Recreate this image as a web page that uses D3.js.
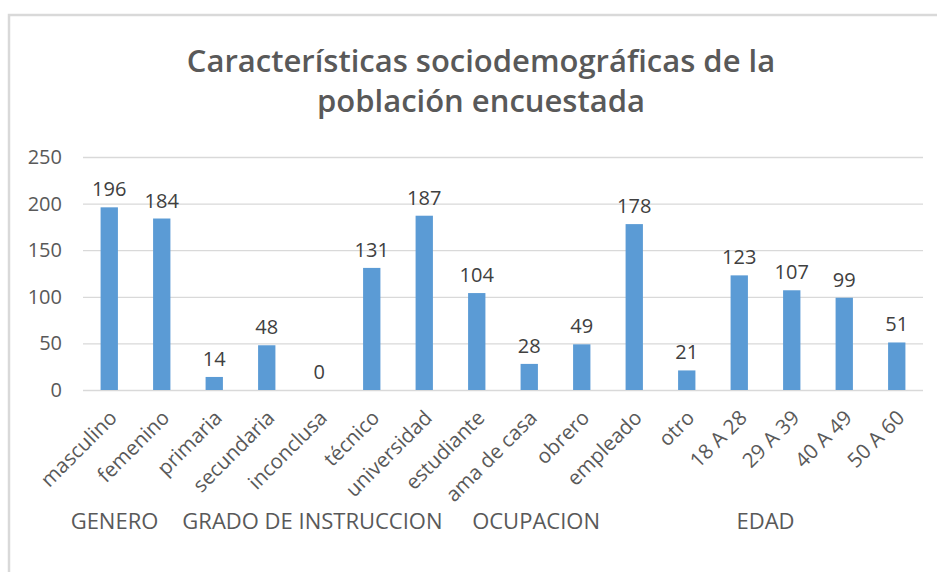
<!DOCTYPE html>
<html>
<head>
<meta charset="utf-8">
<script src="https://cdn.jsdelivr.net/npm/d3@7"></script>
<style>
  body { margin: 0; background: #fff; }
  text { font-family: "Open Sans", sans-serif; }
</style>
</head>
<body>
<div class="bar-chart"></div>
<script>

    // data
    const categories = ["masculino", "femenino", "primaria", "secundaria", "inconclusa", "técnico",
        "universidad", "estudiante", "ama de casa", "obrero", "empleado", "otro",
        "18 A 28", "29 A 39", "40 A 49", "50 A 60"]
    const values = [196, 184, 14, 48, 0, 131, 187, 104, 28, 49, 178, 21, 123, 107, 99, 51]
    const yTicks = [0, 50, 100, 150, 200, 250]
    const groupNames = ["GENERO", "GRADO DE INSTRUCCION", "OCUPACION", "EDAD"]
    const groupAnchors = ["masculino", "inconclusa", "ama de casa", "18 A 28"]

    const data = categories.map((c, i) => ({cat: c, value: values[i]}))

    const W = 937, H = 572
    const margin = ({top: 157, right: 14, bottom: 182, left: 83})
    // where each group label sits relative to its anchor bar, in steps
    const labelShift = [0.1, -0.13, 0.13, 0.5]

    const svg = d3.select(".bar-chart")
        .append("svg")
        .attr("width", W)
        .attr("height", H)

    // chart frame
    svg.append("path")
        .attr("d", `M9,${H} V15 H${W}`)
        .attr("fill", "none")
        .attr("stroke", "#d9d9d9")
        .attr("stroke-width", 2.5)

    svg.append("text")
        .attr("x", 481)
        .attr("text-anchor", "middle")
        .attr("fill", "#595959")
        .attr("font-size", 31)
        .attr("font-weight", 600)
        .selectAll("tspan")
        .data(["Características sociodemográficas de la", "población encuestada"])
        .join("tspan")
        .attr("x", 481)
        .attr("y", (d, i) => 72 + i * 40)
        .text(d => d)

    const x = d3.scaleBand()
        .domain(categories)
        .range([margin.left, W - margin.right])
        .paddingInner(0.67)
        .paddingOuter(0.335)

    const y = d3.scaleLinear()
        .domain([0, 250])
        .range([H - margin.bottom, margin.top])

    const yAxis = d3.axisLeft(y)
        .tickValues(yTicks)
        .tickSize(-(W - margin.right - margin.left))
        .tickPadding(21)

    svg.append("g")
        .attr("transform", `translate(${margin.left},0)`)
        .call(yAxis)
        .call(g => g.select(".domain").remove())
        .call(g => g.selectAll(".tick line").attr("stroke", "#d9d9d9").attr("stroke-width", 1.3))
        .call(g => g.selectAll(".tick text")
            .attr("fill", "#595959")
            .attr("font-size", 20)
            .attr("font-family", "Open Sans, sans-serif"))

    svg.append("g")
        .selectAll("rect")
        .data(data)
        .join("rect")
        .attr("x", d => x(d.cat))
        .attr("y", d => y(d.value))
        .attr("width", x.bandwidth())
        .attr("height", d => y(0) - y(d.value))
        .attr("fill", "#5b9bd5")

    svg.append("g")
        .selectAll("text")
        .data(data)
        .join("text")
        .attr("x", d => x(d.cat) + x.bandwidth() / 2)
        .attr("y", d => y(d.value) - 11)
        .attr("text-anchor", "middle")
        .attr("font-size", 20)
        .attr("fill", "#404040")
        .text(d => d.value)

    svg.append("g")
        .selectAll("text")
        .data(categories)
        .join("text")
        .attr("transform", d => `translate(${x(d) + x.bandwidth() / 2 + 4},${y(0) + 24}) rotate(-45)`)
        .attr("text-anchor", "end")
        .attr("dy", "0.35em")
        .attr("font-size", 20.5)
        .attr("fill", "#595959")
        .text(d => d)

    svg.append("g")
        .selectAll("text")
        .data(groupNames)
        .join("text")
        .attr("x", (d, i) => x(groupAnchors[i]) + x.bandwidth() / 2 + labelShift[i] * x.step())
        .attr("y", 529)
        .attr("text-anchor", "middle")
        .attr("font-size", 22)
        .attr("fill", "#595959")
        .text(d => d)

</script>
</body>
</html>
